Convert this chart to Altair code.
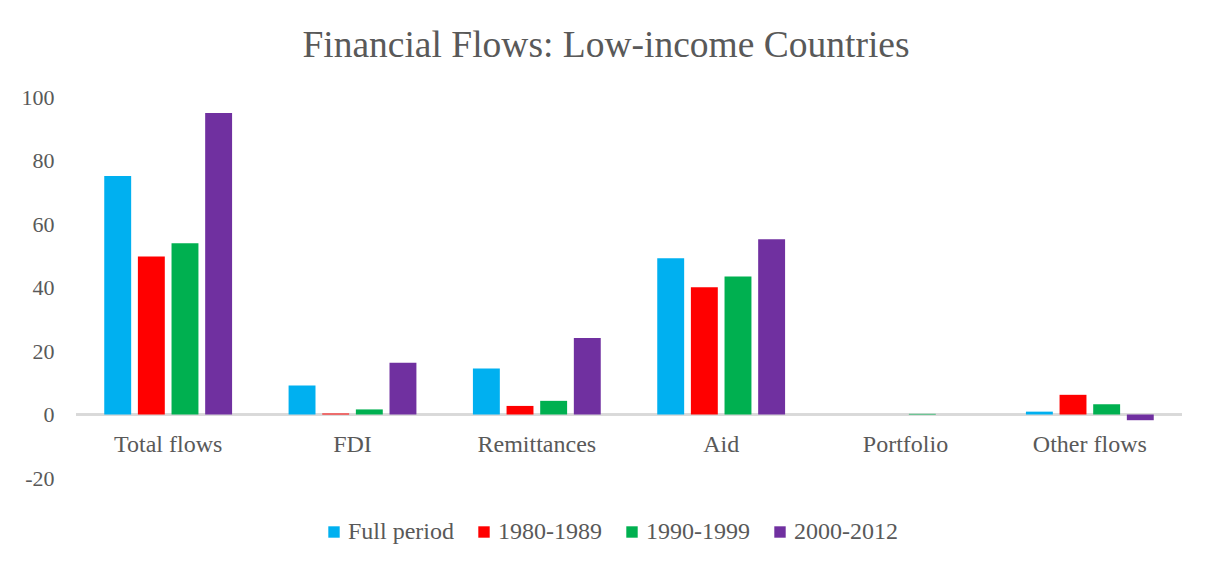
import altair as alt
import pandas as pd

categories = ["Total flows", "FDI", "Remittances", "Aid", "Portfolio", "Other flows"]
periods = ["Full period", "1980-1989", "1990-1999", "2000-2012"]
full_period = [75.1, 9.1, 14.5, 49.2, 0.0, 0.9]
p1980_1989 = [49.8, 0.3, 2.7, 40.1, 0.0, 6.2]
p1990_1999 = [53.9, 1.6, 4.3, 43.5, 0.2, 3.2]
p2000_2012 = [95.0, 16.3, 24.1, 55.2, 0.0, -1.8]
colors = ["#00B0F0", "#FF0000", "#00B050", "#7030A0"]

rows = []
for series, vals in zip(periods, [full_period, p1980_1989, p1990_1999, p2000_2012]):
    for c, v in zip(categories, vals):
        rows.append({"category": c, "period": series, "value": v})
df = pd.DataFrame(rows)
cat_df = pd.DataFrame({"category": categories, "zero": [0] * len(categories)})

FONT = "Liberation Serif"
GREY = "#595959"

x_scale = alt.Scale(domain=categories, paddingInner=0.27, paddingOuter=0.135)
y_scale = alt.Scale(domain=[-20, 100], nice=False)

bars = alt.Chart(df).mark_bar().encode(
    x=alt.X("category:N", scale=x_scale, sort=categories, axis=None),
    xOffset=alt.XOffset("period:N", sort=periods,
                        scale=alt.Scale(domain=periods, paddingInner=0.2, paddingOuter=0.1)),
    y=alt.Y("value:Q", scale=y_scale,
            axis=alt.Axis(values=[-20, 0, 20, 40, 60, 80, 100], title=None, grid=False,
                          domain=False, ticks=False, labelPadding=22,
                          labelExpr="'' + datum.value",
                          labelFontSize=22, labelFont=FONT, labelColor=GREY)),
    color=alt.Color("period:N", sort=periods,
                    scale=alt.Scale(domain=periods, range=colors),
                    legend=alt.Legend(orient="none", legendX=246, legendY=423,
                                      direction="horizontal", title=None,
                                      symbolType="square", symbolSize=130,
                                      symbolStrokeWidth=0, labelFontSize=24,
                                      labelFont=FONT, labelColor=GREY,
                                      columnPadding=18, labelOffset=2)),
)

zero_line = alt.Chart(cat_df).mark_rule(color="#D9D9D9", strokeWidth=2).encode(
    y=alt.Y("zero:Q", scale=y_scale)
)

labels = alt.Chart(cat_df).mark_text(
    font=FONT, fontSize=24, color=GREY, baseline="middle", dy=30
).encode(
    x=alt.X("category:N", scale=x_scale, sort=categories, axis=None),
    y=alt.Y("zero:Q", scale=y_scale),
    text="category:N",
)

chart = alt.layer(zero_line, bars, labels).properties(
    width=1106,
    height=381,
    title=alt.TitleParams("Financial Flows: Low-income Countries", fontSize=37.5,
                          font=FONT, color=GREY, fontWeight="normal", offset=22,
                          dx=-23),
    padding={"left": 13, "top": 18, "right": 10, "bottom": 5},
).configure(background="white").configure_view(stroke=None)

chart.save("out.html", embed_options={"renderer": "svg", "actions": False})
